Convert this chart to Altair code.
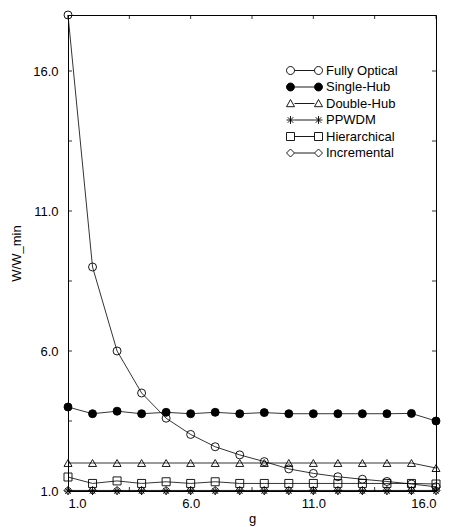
import altair as alt
import pandas as pd

g_values = list(range(1, 17))
series_names = ["Fully Optical", "Single-Hub", "Double-Hub", "PPWDM", "Hierarchical", "Incremental"]
fully_optical = [18.0, 9.0, 6.0, 4.5, 3.6, 3.02, 2.58, 2.29, 2.05, 1.79, 1.63, 1.51, 1.42, 1.34, 1.25, 1.15]
single_hub = [4.0, 3.76, 3.85, 3.76, 3.81, 3.76, 3.81, 3.76, 3.8, 3.76, 3.76, 3.76, 3.76, 3.76, 3.77, 3.5]
double_hub = [2.0, 2.0, 2.0, 2.0, 2.0, 2.0, 2.0, 2.0, 2.0, 2.0, 2.0, 2.0, 2.0, 2.0, 2.0, 1.82]
ppwdm = [1.0] * 16
hierarchical = [1.5, 1.27, 1.36, 1.27, 1.33, 1.27, 1.33, 1.27, 1.27, 1.27, 1.27, 1.27, 1.27, 1.27, 1.27, 1.25]
incremental = [1.02] * 16

x_ticks = [1, 3.5, 6, 8.5, 11, 13.5, 16]
y_ticks = [1, 3.5, 6, 8.5, 11, 13.5, 16]
x_labels = [1, 6, 11, 16]
y_labels = [1, 6, 11, 16]

W, H = 368, 476

rows = []
for name, vals in zip(series_names, [fully_optical, single_hub, double_hub, ppwdm, hierarchical, incremental]):
    for g, v in zip(g_values, vals):
        rows.append({"series": name, "g": g, "W": v})
df = pd.DataFrame(rows)

ast = "M-1,0L1,0M0,-1L0,1M-0.7,-0.7L0.7,0.7M-0.7,0.7L0.7,-0.7"
plot_shapes = ["circle", "circle", "triangle-up", ast, "square", "diamond"]
fills = ["transparent", "black", "transparent", "transparent", "transparent", "transparent"]
strokes = ["black"] * 6


def marker(kind, cx, r):
    if kind == "circle":
        return f"M{cx - r},0A{r},{r} 0 1,0 {cx + r},0A{r},{r} 0 1,0 {cx - r},0Z"
    if kind == "tri":
        return f"M{cx},{-r}L{cx + r},{r * 0.8}L{cx - r},{r * 0.8}Z"
    if kind == "square":
        return f"M{cx - r},{-r}H{cx + r}V{r}H{cx - r}Z"
    if kind == "diamond":
        return f"M{cx},{-r}L{cx + r},0L{cx},{r}L{cx - r},0Z"
    if kind == "ast":
        d = r * 0.7
        return (f"M{cx - r},0L{cx + r},0M{cx},{-r}L{cx},{r}"
                f"M{cx - d},{-d}L{cx + d},{d}M{cx - d},{d}L{cx + d},{-d}")


def legend_path(kind):
    r = 0.5
    lcx, rcx = -3.0, 0.5
    return marker(kind, lcx, r) + f"M{lcx + r},0L{rcx - r},0" + marker(kind, rcx, r)


legend_shapes = [legend_path(k) for k in ["circle", "circle", "tri", "ast", "square", "diamond"]]

xs = alt.Scale(domain=[1, 16], nice=False, zero=False)
ys = alt.Scale(domain=[1, 18], nice=False, zero=False)
xa = alt.Axis(values=x_labels, format=".1f", title="g", tickSize=0, labelPadding=6,
              domain=False, grid=False, titlePadding=2)
ya = alt.Axis(values=y_labels, format=".1f", title="W/W_min", tickSize=0, labelPadding=10,
              domain=False, grid=False, titlePadding=9)
X = alt.X("g:Q", scale=xs, axis=xa)
Y = alt.Y("W:Q", scale=ys, axis=ya)

base = alt.Chart(df)

lines = base.mark_line(color="black", strokeWidth=0.8).encode(x=X, y=Y, detail="series:N")

points = base.mark_point(filled=True, stroke="black", strokeWidth=0.9, size=64, opacity=1, clip=False).encode(
    x=X, y=Y,
    shape=alt.Shape("series:N", scale=alt.Scale(domain=series_names, range=plot_shapes), legend=None),
    fill=alt.Fill("series:N", scale=alt.Scale(domain=series_names, range=fills), legend=None),
)

leg = dict(title=None, orient="none", legendX=238, legendY=47, symbolSize=256,
           symbolStrokeWidth=0.9, labelOffset=3, rowPadding=0.5,
           labelFont="Liberation Sans", labelFontSize=13, labelColor="black", padding=0)

legend_layer = base.mark_point(filled=True, strokeWidth=0.9, opacity=1).encode(
    x=X, y=Y,
    shape=alt.Shape("series:N", scale=alt.Scale(domain=series_names, range=legend_shapes),
                    legend=alt.Legend(**leg)),
    fill=alt.Fill("series:N", scale=alt.Scale(domain=series_names, range=fills),
                  legend=alt.Legend(**leg)),
    stroke=alt.Stroke("series:N", scale=alt.Scale(domain=series_names, range=strokes),
                      legend=alt.Legend(**leg)),
).transform_filter("datum.g < 0")

xt = pd.DataFrame({"g": x_ticks})
yt = pd.DataFrame({"W": y_ticks})

tick_style = dict(color="black", strokeWidth=0.8)
left_ticks = alt.Chart(yt).mark_rule(**tick_style).encode(y=Y, x=alt.value(0), x2=alt.value(4))
right_ticks = alt.Chart(yt).mark_rule(**tick_style).encode(y=Y, x=alt.value(W - 4), x2=alt.value(W))
top_ticks = alt.Chart(xt).mark_rule(**tick_style).encode(x=X, y=alt.value(0), y2=alt.value(4))
bottom_ticks = alt.Chart(xt).mark_rule(**tick_style).encode(x=X, y=alt.value(H - 4), y2=alt.value(H))

chart = alt.layer(lines, left_ticks, right_ticks, top_ticks, bottom_ticks, points, legend_layer).resolve_scale(
    shape="independent", fill="independent", stroke="independent"
).properties(
    width=W, height=H,
    autosize=alt.AutoSizeParams(type="none"),
    padding={"left": 60, "top": 7, "right": 5, "bottom": 35},
    background="white",
).configure_view(
    stroke="black", strokeWidth=1
).configure_axis(
    labelFont="Liberation Sans", labelFontSize=13, labelColor="black",
    titleFont="Liberation Sans", titleFontSize=13, titleFontWeight="normal", titleColor="black",
)

chart.save("out.html", embed_options={"renderer": "svg", "actions": False})
